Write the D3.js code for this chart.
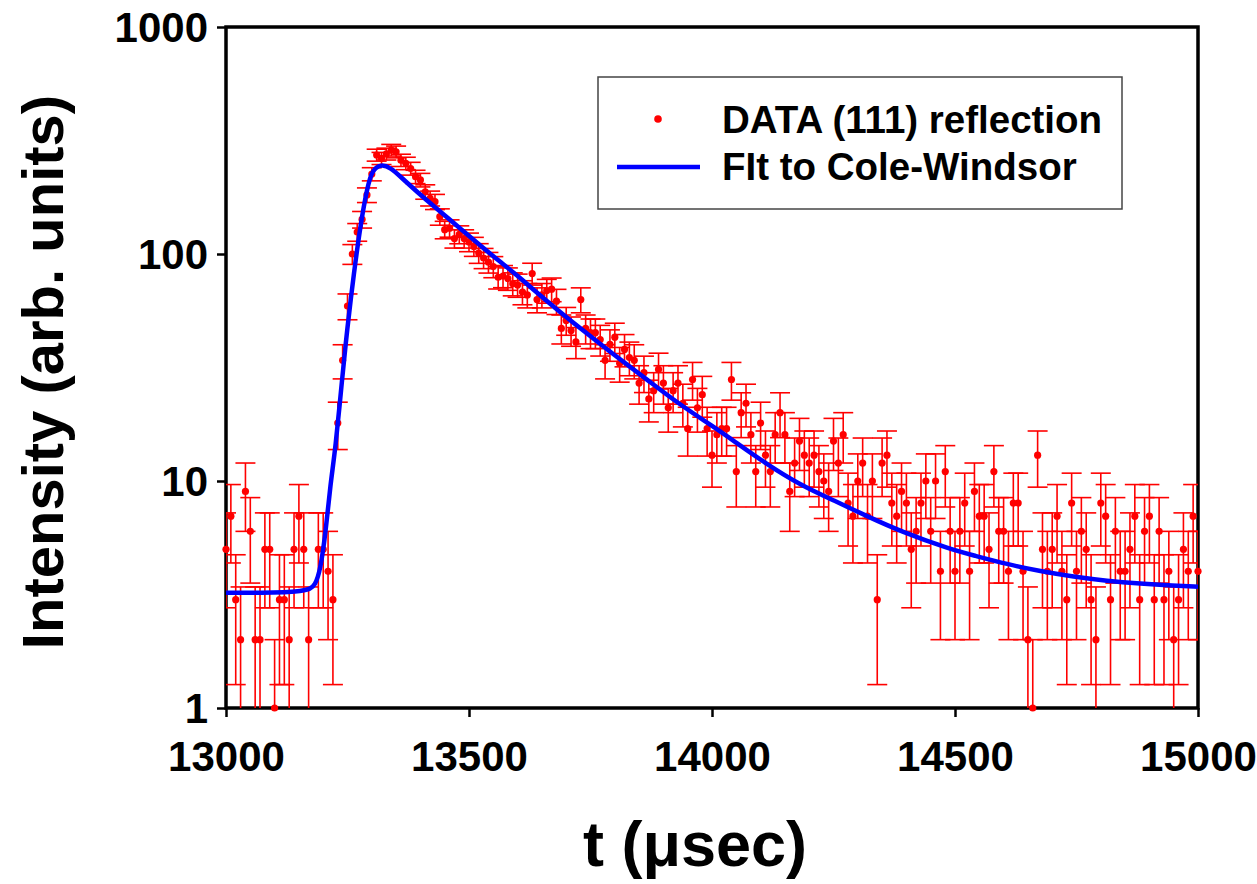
<!DOCTYPE html>
<html>
<head>
<meta charset="utf-8">
<script src="https://cdn.jsdelivr.net/npm/d3@7"></script>
<style>
  body { margin: 0; background: white; }
  text { font-family: "Liberation Sans", Arial, sans-serif; font-weight: bold; }
</style>
</head>
<body>
<div id="chart"></div>
<script>
// time grid (μsec): first bin and bin width
const tStart = 13000
const tStep = 10

// counts per bin (0 = not shown on log axis)
const counts = [
  5, 7, 3, 2, 9, 6, 2, 2, 5, 5,
  1, 3, 3, 2, 5, 7, 5, 2, 0, 5,
  5, 4, 3, 18, 34, 59, 100, 125, 142, 182,
  225, 273, 264, 276, 287, 282, 259, 251, 238, 219,
  212, 188, 176, 170, 146, 128, 130, 117, 122, 117,
  113, 108, 101, 96, 92, 88, 79, 80, 78, 74,
  73, 68, 66, 82, 63, 66, 69, 70, 62, 47,
  51, 46, 41, 63, 47, 45, 45, 42, 34, 40,
  43, 33, 38, 35, 34, 27, 30, 23, 25, 31,
  27, 21, 25, 27, 22, 17, 28, 21, 24, 17,
  13, 16, 17, 17, 28, 11, 20, 22, 16, 11,
  18, 13, 11, 16, 20, 16, 9, 12, 15, 13,
  12, 13, 11, 10, 9, 15, 12, 16, 8, 7,
  10, 12, 7, 10, 3, 12, 13, 8, 7, 9,
  8, 5, 6, 8, 10, 6, 10, 4, 11, 6,
  4, 6, 8, 4, 9, 7, 7, 5, 11, 6,
  6, 4, 8, 8, 4, 2, 1, 13, 5, 4,
  5, 7, 4, 3, 8, 4, 6, 5, 3, 2,
  8, 7, 3, 6, 4, 4, 5, 7, 3, 6,
  7, 3, 6, 3, 4, 2, 3, 5, 4, 7,
  4
]

// Cole-Windsor fit curve
const fitT = [13000, 13167, 13184, 13194, 13205, 13215, 13225, 13239, 13249, 13263,
  13277, 13291, 13301, 13318, 13339, 13359, 13393, 13428, 13462, 13496,
  13530, 13565, 13592, 13661, 13729, 13798, 13867, 13935, 14004, 14045,
  14114, 14182, 14251, 14319, 14388, 14491, 14539, 14607, 14676, 14744,
  14813, 14881, 14950, 15000]
const fitI = [3.22, 3.22, 3.48, 4.05, 5.9, 9.8, 13.7, 28.3, 46, 82,
  136, 198, 234, 249, 240, 219, 188, 162, 141, 122,
  106, 92, 83, 61.7, 47, 36, 27.9, 21.6, 17.3, 15.0,
  11.8, 9.6, 8.2, 7.0, 6.0, 5.0, 4.7, 4.3, 4.0, 3.79,
  3.63, 3.53, 3.46, 3.42]

const xTicks = [13000, 13500, 14000, 14500, 15000]
const yTicks = [1, 10, 100, 1000]
const legendLabels = ["DATA (111) reflection", "FIt to Cole-Windsor"]

const W = 1257, H = 884
const plot = { left: 226, right: 1198, top: 27, bottom: 708 }

const svg = d3.select("#chart").append("svg")
  .attr("width", W).attr("height", H)

const x = d3.scaleLinear().domain([13000, 15000]).range([plot.left, plot.right])
const y = d3.scaleLog().domain([1, 1000]).range([plot.bottom, plot.top])

const data = counts.map((n, i) => ({ t: tStart + i * tStep, n }))
  .filter(d => d.n > 0)

svg.append("clipPath").attr("id", "clip")
  .append("rect")
  .attr("x", plot.left).attr("y", plot.top)
  .attr("width", plot.right - plot.left).attr("height", plot.bottom - plot.top)

// axes
const xAxis = svg.append("g")
  .attr("transform", `translate(0,${plot.bottom})`)
  .call(d3.axisBottom(x).tickValues(xTicks).tickSize(9).tickFormat(d3.format("d")))
const yAxis = svg.append("g")
  .attr("transform", `translate(${plot.left},0)`)
  .call(d3.axisLeft(y).tickValues(yTicks).tickSize(9).tickFormat(d3.format("d")))

xAxis.select(".domain").remove()
yAxis.select(".domain").remove()
xAxis.selectAll("line").attr("stroke", "black").attr("stroke-width", 2.5)
yAxis.selectAll("line").attr("stroke", "black").attr("stroke-width", 2.5)
xAxis.selectAll("text")
  .style("font-size", "42px").attr("fill", "black").attr("y", 23).attr("dy", "0.95em")
yAxis.selectAll("text")
  .style("font-size", "42px").attr("fill", "black").attr("x", -18).attr("dy", "0.35em")

// frame
svg.append("rect")
  .attr("x", plot.left).attr("y", plot.top)
  .attr("width", plot.right - plot.left).attr("height", plot.bottom - plot.top)
  .attr("fill", "none").attr("stroke", "black").attr("stroke-width", 3.5)

// error bars (±sqrt(N))
const red = "#ff0000"
const bars = svg.append("g").attr("clip-path", "url(#clip)")
  .attr("stroke", red).attr("stroke-width", 1.6)

data.forEach(d => {
  const e = Math.sqrt(d.n)
  const lo = Math.max(d.n - e, 0.5)
  const hi = d.n + e
  const cx = x(d.t)
  bars.append("line")
    .attr("x1", cx).attr("x2", cx)
    .attr("y1", y(lo)).attr("y2", y(hi))
  bars.append("line")
    .attr("x1", cx - 10).attr("x2", cx + 10)
    .attr("y1", y(hi)).attr("y2", y(hi))
  if (d.n - e > 1) {
    bars.append("line")
      .attr("x1", cx - 10).attr("x2", cx + 10)
      .attr("y1", y(lo)).attr("y2", y(lo))
  }
})

svg.append("g").selectAll("circle")
  .data(data)
  .enter()
  .append("circle")
  .attr("cx", d => x(d.t))
  .attr("cy", d => y(d.n))
  .attr("r", 3.6)
  .attr("fill", red)

// fit line
const fit = fitT.map((t, i) => ({ t, v: fitI[i] }))
svg.append("path")
  .datum(fit)
  .attr("fill", "none")
  .attr("stroke", "#0000ff")
  .attr("stroke-width", 4.5)
  .attr("d", d3.line().x(d => x(d.t)).y(d => y(d.v)).curve(d3.curveBasis))

// legend
const lg = svg.append("g")
lg.append("rect")
  .attr("x", 598).attr("y", 77).attr("width", 524).attr("height", 132)
  .attr("fill", "white").attr("stroke", "#444").attr("stroke-width", 1.5)
lg.append("circle").attr("cx", 658).attr("cy", 119).attr("r", 3.8).attr("fill", red)
lg.append("line")
  .attr("x1", 617).attr("x2", 700).attr("y1", 167).attr("y2", 167)
  .attr("stroke", "#0000ff").attr("stroke-width", 4.5)
lg.selectAll("text.lab")
  .data(legendLabels)
  .enter()
  .append("text")
  .attr("class", "lab")
  .attr("x", 722)
  .attr("y", (d, i) => 133 + i * 47)
  .style("font-size", "38.5px")
  .text(d => d)

// axis titles
svg.append("text")
  .attr("transform", "rotate(-90)")
  .attr("x", -372)
  .attr("y", 63)
  .attr("text-anchor", "middle")
  .style("font-size", "58px")
  .text("Intensity (arb. units)")

svg.append("text")
  .attr("x", 695)
  .attr("y", 866)
  .attr("text-anchor", "middle")
  .style("font-size", "63px")
  .text("t (μsec)")
</script>
</body>
</html>
